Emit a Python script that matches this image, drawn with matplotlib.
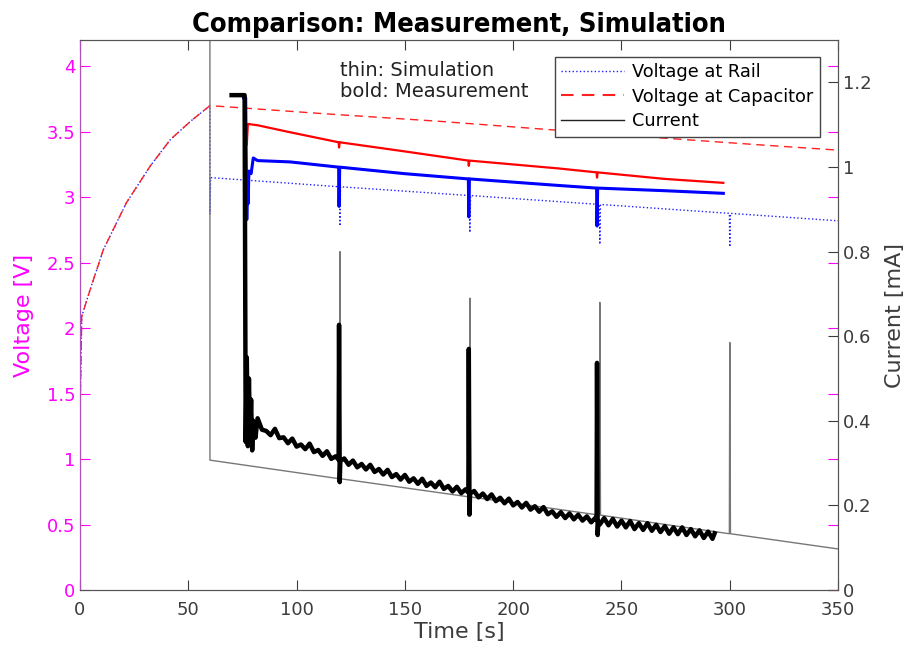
import matplotlib.pyplot as plt
from matplotlib.lines import Line2D

# simulation (thin)
t_sim_v = [0, 0.8, 4.6, 10.8, 21.5, 32.5, 41.7, 51, 60]
v_charge = [1.3, 2.09, 2.29, 2.60, 2.96, 3.24, 3.44, 3.58, 3.70]

t_cap_sim = t_sim_v + [111, 166, 254, 314, 350]
v_cap_sim = v_charge + [3.64, 3.58, 3.47, 3.40, 3.36]

t_rail_sim = t_sim_v + [60, 60.3, 119.8, 120, 120.3, 179.8, 180, 180.3,
                        239.8, 240, 240.3, 299.8, 300, 300.3, 350]
v_rail_sim = v_charge + [2.87, 3.15, 3.08, 2.78, 3.08, 3.013, 2.73, 3.013,
                         2.945, 2.64, 2.945, 2.877, 2.62, 2.877, 2.82]

t_cur_sim = [0, 0.01, 59.9, 60, 119.8, 120, 120.3, 179.8, 180, 180.3,
             239.8, 240, 240.3, 299.8, 300, 300.3, 350]
i_cur_sim = [0, 5.0, 5.0, 0.307, 0.263, 0.80, 0.263, 0.220, 0.69, 0.220,
             0.177, 0.68, 0.177, 0.133, 0.585, 0.133, 0.097]

# measurement (bold)
t_cap_meas = [76, 77, 77.5, 82, 96, 119.4, 119.6, 119.9, 150, 179.3, 179.5,
              179.8, 221, 238.5, 238.7, 239, 270, 297]
v_cap_meas = [3.71, 3.40, 3.56, 3.55, 3.50, 3.42, 3.38, 3.42, 3.35, 3.28, 3.24,
              3.28, 3.22, 3.19, 3.15, 3.19, 3.14, 3.11]

t_rail_meas = [75.5, 76.5, 77, 77.3, 77.6, 78, 79, 80, 82, 97, 119.4, 119.6,
               119.9, 150, 179.3, 179.5, 179.8, 221, 238.5, 238.7, 239, 270, 297]
v_rail_meas = [3.76, 3.76, 2.83, 3.10, 2.95, 3.20, 3.18, 3.30, 3.28, 3.27, 3.23, 2.93,
               3.23, 3.18, 3.14, 2.85, 3.14, 3.09, 3.07, 2.78, 3.07, 3.05, 3.03]

t_cur_meas = [70, 76, 76.5, 77, 77.5, 78, 78.5, 79, 79.5, 80, 81,
              82, 84, 86, 88, 90, 92, 94, 96, 98, 100, 102, 104, 106, 108, 110,
              112, 114, 116, 118,
              119.4, 119.6, 119.9, 120.2,
              122, 124, 126, 128, 130, 132, 134, 136, 138, 140, 142, 144, 146, 148,
              150, 152, 154, 156, 158, 160, 162, 164, 166, 168, 170, 172, 174, 176, 178,
              179.3, 179.5, 179.8, 180.1,
              182, 184, 186, 188, 190, 192, 194, 196, 198, 200, 202, 204, 206, 208,
              210, 212, 214, 216, 218, 220, 222, 224, 226, 228, 230, 232, 234, 236, 238,
              238.5, 238.7, 239, 239.3,
              240, 242, 244, 246, 248, 250, 252, 254, 256, 258, 260, 262, 264, 266,
              268, 270, 272, 274, 276, 278, 280, 282, 284, 286, 288, 290, 292, 293]
i_cur_meas = [1.17, 1.17, 0.35, 0.55, 0.34, 0.50, 0.36, 0.45, 0.33, 0.40, 0.36,
              0.406, 0.379, 0.376, 0.366, 0.381, 0.359, 0.361, 0.347, 0.358, 0.339,
              0.344, 0.333, 0.346, 0.326, 0.331, 0.317, 0.328, 0.310, 0.316,
              0.308, 0.627, 0.255, 0.305,
              0.311, 0.296, 0.306, 0.290, 0.298, 0.285, 0.296, 0.279, 0.286, 0.273,
              0.284, 0.267, 0.274, 0.261, 0.272, 0.256, 0.264, 0.251, 0.263, 0.246,
              0.254, 0.243, 0.256, 0.239, 0.246, 0.233, 0.244, 0.229, 0.238,
              0.230, 0.57, 0.178, 0.228,
              0.234, 0.219, 0.228, 0.215, 0.226, 0.210, 0.218, 0.205, 0.216, 0.200,
              0.208, 0.195, 0.206, 0.190, 0.198, 0.185, 0.196, 0.179, 0.186, 0.173,
              0.184, 0.170, 0.181, 0.167, 0.178, 0.164, 0.174, 0.160, 0.171,
              0.165, 0.537, 0.130, 0.163,
              0.155, 0.170, 0.153, 0.168, 0.150, 0.164, 0.148, 0.163, 0.144, 0.158,
              0.142, 0.158, 0.140, 0.154, 0.137, 0.151, 0.133, 0.148, 0.132, 0.148,
              0.130, 0.144, 0.127, 0.141, 0.123, 0.138, 0.121, 0.134]

x_ticks = [0, 50, 100, 150, 200, 250, 300, 350]
v_ticks = [0, 0.5, 1, 1.5, 2, 2.5, 3, 3.5, 4]
v_labels = ['0', '0.5', '1', '1.5', '2', '2.5', '3', '3.5', '4']
i_ticks = [0, 0.2, 0.4, 0.6, 0.8, 1.0, 1.2]
i_labels = ['0', '0.2', '0.4', '0.6', '0.8', '1', '1.2']

MAG = '#ff00ff'
GREY = '#3c3c3c'

fig = plt.figure(figsize=(9.09, 6.53), dpi=100)
ax = fig.add_axes([0.088, 0.0965, 0.834, 0.842])
ax2 = ax.twinx()

ax.plot(t_rail_sim, v_rail_sim, ':', color='#2020ff', lw=1.0)
ax.plot(t_cap_sim, v_cap_sim, '--', color='#ff2020', lw=1.0, dashes=(6, 4))
ax.plot(t_cap_meas, v_cap_meas, '-', color='#ff0000', lw=1.6)
ax.plot(t_rail_meas, v_rail_meas, '-', color='#0000ff', lw=2.2)

ax2.plot(t_cur_sim, i_cur_sim, '-', color='#777777', lw=1.0)
ax2.plot(t_cur_meas, i_cur_meas, '-', color='black', lw=3.2)

ax.set_xlim(0, 350)
ax.set_ylim(0, 4.2)
ax2.set_ylim(0, 1.3)

ax.set_xticks(x_ticks)
ax.set_xticklabels([str(x) for x in x_ticks])
ax.set_yticks(v_ticks)
ax.set_yticklabels(v_labels)
ax2.set_yticks(i_ticks)
ax2.set_yticklabels(i_labels)

ax.tick_params(axis='x', direction='in', length=7, color=GREY, labelcolor=GREY,
               labelsize=13, top=True, pad=8)
ax.tick_params(axis='y', direction='in', length=7, color=MAG, labelcolor=MAG,
               labelsize=13, right=True)
ax2.tick_params(axis='y', direction='in', length=7, color=GREY, labelcolor=GREY,
                labelsize=13)

for s in ['top', 'bottom', 'right']:
    ax.spines[s].set_color('#555555')
    ax2.spines[s].set_color('#555555')
ax.spines['left'].set_color('#b050c0')
ax2.spines['left'].set_color('#b050c0')

ax.set_xlabel('Time [s]', fontsize=16, color=GREY, labelpad=2)
ax.set_ylabel('Voltage [V]', fontsize=16, color=MAG, labelpad=9)
ax2.set_ylabel('Current [mA]', fontsize=16, color=GREY, labelpad=10)
ax.set_title('Comparison: Measurement, Simulation', fontsize=19.5,
             fontweight='bold', fontstretch='condensed', pad=6)

ax.text(120, 4.04, 'thin: Simulation\nbold: Measurement', fontsize=14,
        color='#222222', va='top', ha='left', linespacing=1.15)

handles = [Line2D([], [], ls=':', color='#2020ff', lw=1.0),
           Line2D([], [], ls='--', color='#ff2020', lw=1.5, dashes=(6, 4)),
           Line2D([], [], ls='-', color='#222222', lw=1.0)]
leg = ax2.legend(handles, ['Voltage at Rail', 'Voltage at Capacitor', 'Current'],
                 loc='upper right', bbox_to_anchor=(0.976, 0.97), fontsize=12.8,
                 fancybox=False, edgecolor='#444444', framealpha=1,
                 borderpad=0.35, labelspacing=0.38, handlelength=3.5,
                 handletextpad=0.5, borderaxespad=0)
leg.get_frame().set_linewidth(1.0)

fig.savefig('out.png', dpi=100)
